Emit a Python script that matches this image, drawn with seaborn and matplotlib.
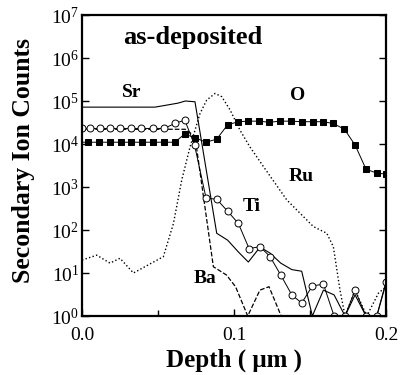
import numpy as np
import pandas as pd
import matplotlib
matplotlib.use("Agg")
import matplotlib.pyplot as plt
import seaborn as sns
from matplotlib.ticker import LogLocator, LogFormatterSciNotation, FixedLocator, NullLocator

# ---- data ----
sr_depth = [0.0, 0.048, 0.063, 0.068, 0.0743, 0.0886, 0.0958, 0.1028, 0.1094, 0.1171,
            0.1237, 0.1307, 0.138, 0.1445, 0.1515, 0.1588, 0.1658, 0.173, 0.1796,
            0.1868, 0.1939, 0.200]
sr_counts = [7.2e4, 7.2e4, 8.9e4, 1.0e5, 9.6e4, 84, 58, 31, 18, 40,
             29, 17, 12, 11, 1.0, 4.0, 3.1, 1.0, 3.1,
             1.0, 1.0, 5.9]

ti_depth = [0.0, 0.0051, 0.0116, 0.0182, 0.0248, 0.0324, 0.039, 0.0467, 0.054, 0.061,
            0.0676, 0.074, 0.0816, 0.0886, 0.0959, 0.1028, 0.1099, 0.1171, 0.1237,
            0.1307, 0.138, 0.1445, 0.1515, 0.1588, 0.1658, 0.173, 0.1796, 0.1868,
            0.1939, 0.200]
ti_counts = [2.3e4, 2.3e4, 2.3e4, 2.3e4, 2.3e4, 2.3e4, 2.3e4, 2.3e4, 2.3e4, 3.0e4,
             3.6e4, 9.5e3, 550, 520, 270, 143, 37, 41, 24,
             9.0, 3.1, 2.0, 5.0, 5.5, 1.0, 1.0, 4.0, 1.0,
             1.0, 6.3]

o_depth = [-0.003, 0.0039, 0.0110, 0.0182, 0.0255, 0.0325, 0.0395, 0.0467, 0.0539, 0.0610,
           0.0675, 0.0743, 0.0816, 0.0886, 0.0958, 0.1028, 0.1094, 0.1164, 0.1232,
           0.1303, 0.1375, 0.1447, 0.1518, 0.1583, 0.1653, 0.1726, 0.1796, 0.1868,
           0.1939, 0.200]
o_counts = [1.1e4, 1.1e4, 1.1e4, 1.1e4, 1.1e4, 1.1e4, 1.1e4, 1.1e4, 1.1e4, 1.1e4,
            1.7e4, 1.4e4, 1.1e4, 1.3e4, 2.8e4, 3.3e4, 3.4e4, 3.4e4, 3.2e4,
            3.4e4, 3.4e4, 3.3e4, 3.3e4, 3.3e4, 3.0e4, 2.2e4, 9.5e3, 2.6e3,
            2.1e3, 2.0e3]

ru_depth = [0.0, 0.0097, 0.0184, 0.025, 0.0338, 0.0535, 0.0601, 0.0656, 0.0711, 0.0776,
            0.082, 0.0875, 0.0919, 0.0974, 0.1039, 0.1105, 0.1193, 0.1347, 0.1522,
            0.161, 0.1653, 0.1697, 0.173, 0.1796, 0.1873, 0.195, 0.200]
ru_counts = [20, 26, 17, 22, 10, 24, 140, 1450, 8.7e3, 5.1e4,
             1.05e5, 1.5e5, 1.26e5, 6.2e4, 2.1e4, 8.5e3, 3.0e3, 500, 120,
             84, 41, 4.0, 1.0, 4.0, 1.0, 3.4, 4.8]

ba_depth = [0.0, 0.068, 0.0743, 0.0864, 0.095, 0.101, 0.109, 0.117, 0.123, 0.131]
ba_counts = [2.2e4, 2.2e4, 1.5e4, 14, 9.0, 4.8, 1.0, 4.0, 4.8, 1.0]

x_ticks = [0.0, 0.1, 0.2]
x_tick_labels = ["0.0", "0.1", "0.2"]
x_minor = [0.05, 0.15]

# ---- style ----
sns.set_style("ticks")
plt.rcParams["font.family"] = ["Liberation Serif", "DejaVu Serif"]
plt.rcParams["mathtext.fontset"] = "custom"
plt.rcParams["mathtext.rm"] = "Liberation Serif"
for k in ["text.color", "axes.labelcolor", "xtick.color", "ytick.color", "axes.edgecolor"]:
    plt.rcParams[k] = "black"

fig = plt.figure(figsize=(4.03, 3.75), dpi=100)
ax = fig.add_axes([0.2035, 0.1573, 0.7545, 0.8027])

def frame(d, c):
    return pd.DataFrame({"depth": d, "counts": c})

sns.lineplot(data=frame(sr_depth, sr_counts), x="depth", y="counts", ax=ax,
             color="black", lw=0.8, estimator=None)
sns.lineplot(data=frame(ru_depth, ru_counts), x="depth", y="counts", ax=ax,
             color="black", lw=1.0, linestyle=":", estimator=None)
sns.lineplot(data=frame(ba_depth, ba_counts), x="depth", y="counts", ax=ax,
             color="black", lw=0.9, linestyle="--", estimator=None)
sns.lineplot(data=frame(o_depth, o_counts), x="depth", y="counts", ax=ax,
             color="black", lw=0.7, marker="s", markersize=4.5,
             markerfacecolor="black", markeredgecolor="black", estimator=None)
sns.lineplot(data=frame(ti_depth, ti_counts), x="depth", y="counts", ax=ax,
             color="black", lw=0.7, marker="o", markersize=5,
             markerfacecolor="white", markeredgecolor="black",
             markeredgewidth=0.7, estimator=None)

ax.set_yscale("log")
ax.set_xlim(0, 0.2)
ax.set_ylim(1, 1e7)

ax.yaxis.set_major_locator(LogLocator(base=10, numticks=10))
ax.yaxis.set_major_formatter(LogFormatterSciNotation())
ax.yaxis.set_minor_locator(NullLocator())
ax.xaxis.set_major_locator(FixedLocator(x_ticks))
ax.set_xticklabels(x_tick_labels)
ax.xaxis.set_minor_locator(FixedLocator(x_minor))

ax.tick_params(axis="both", which="both", direction="in", right=True, top=False,
               colors="black", width=1.0)
ax.tick_params(axis="both", which="major", length=5, labelsize=14)
ax.tick_params(axis="x", which="major", pad=8)
ax.tick_params(axis="x", which="minor", length=4)
ax.tick_params(axis="y", pad=2)

for s in ax.spines.values():
    s.set_visible(True)
    s.set_linewidth(1.6)
    s.set_color("black")

ax.set_xlabel("Depth ( μm )", fontsize=18, fontweight="bold", labelpad=3)
ax.set_ylabel("Secondary Ion Counts", fontsize=18.5, fontweight="bold")
ax.yaxis.set_label_coords(-0.155, 0.515)

lab = dict(transform=ax.transAxes, ha="center", va="center",
           fontweight="bold", color="black")
ax.text(0.363, 0.925, "as-deposited", fontsize=19, **lab)
ax.text(0.164, 0.741, "Sr", fontsize=14, **lab)
ax.text(0.709, 0.731, "O", fontsize=14, **lab)
ax.text(0.722, 0.465, "Ru", fontsize=14, **lab)
ax.text(0.559, 0.365, "Ti", fontsize=14, **lab)
ax.text(0.405, 0.126, "Ba", fontsize=14, **lab)

fig.savefig("out.png", dpi=100)
